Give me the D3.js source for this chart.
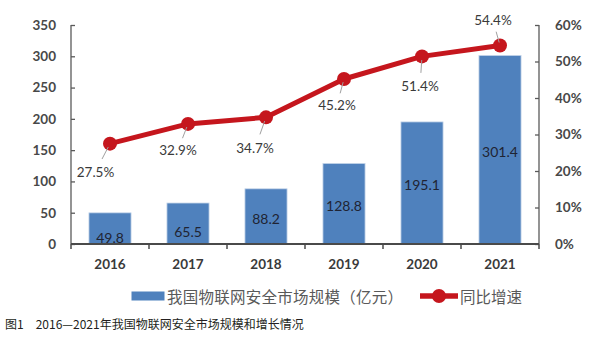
<!DOCTYPE html>
<html><head><meta charset="utf-8">
<script src="https://cdn.jsdelivr.net/npm/d3@7"></script>
<style>html,body{margin:0;padding:0;background:#fff;}svg{display:block;}</style>
</head><body>
<svg id="c" width="600" height="338"></svg>
<script>
const years = ["2016","2017","2018","2019","2020","2021"];
const marketSize = [49.8, 65.5, 88.2, 128.8, 195.1, 301.4];
const growthRate = [0.275, 0.329, 0.347, 0.452, 0.514, 0.544];
const leftTicks = [0,50,100,150,200,250,300,350];
const rightTicks = [0,0.1,0.2,0.3,0.4,0.5,0.6];
const legendBar = "我国物联网安全市场规模（亿元）";
const legendLine = "同比增速";
const caption = "图1　2016—2021年我国物联网安全市场规模和增长情况";

const svg = d3.select("#c");
const L = 71, R = 539, T = 25, B = 244;
const numFont = "Lato, 'Open Sans', sans-serif";
const cjkFont = "'Noto Sans CJK SC', sans-serif";

const x = d3.scaleBand().domain(years).range([L, R]).paddingInner(0.46).paddingOuter(0.23);
const yL = d3.scaleLinear().domain([0, 350]).range([B, T]);
const yR = d3.scaleLinear().domain([0, 0.6]).range([B, T]);
const cx = d => x(d) + x.bandwidth() / 2;

// bars
svg.append("g").selectAll("rect").data(years).join("rect")
  .attr("x", d => x(d)).attr("width", x.bandwidth())
  .attr("y", (d,i) => yL(marketSize[i])).attr("height", (d,i) => yL(0) - yL(marketSize[i]))
  .attr("fill", "#4f81bd").attr("stroke", "#c6d6ea").attr("stroke-width", 0.8);

// bar labels
const barNudge = [9, 8, 2, 1.5, 2, 2];
svg.append("g").selectAll("text").data(years).join("text")
  .attr("x", d => cx(d))
  .attr("y", (d,i) => (yL(marketSize[i]) + yL(0)) / 2 + barNudge[i])
  .attr("text-anchor", "middle").attr("dominant-baseline", "central")
  .attr("font-family", numFont).attr("font-size", 14).attr("fill", "#1f2433")
  .text((d,i) => marketSize[i].toFixed(1));

// left axis
const gL = svg.append("g").attr("transform", `translate(${L},0)`)
  .call(d3.axisLeft(yL).tickValues(leftTicks).tickSize(-4).tickPadding(15));
// right axis
const gR = svg.append("g").attr("transform", `translate(${R},0)`)
  .call(d3.axisRight(yR).tickValues(rightTicks).tickSize(-4).tickPadding(16).tickFormat(d3.format(".0%")));
[gL, gR].forEach(g => {
  g.selectAll("path,line").attr("stroke", "#5a5a5a").attr("stroke-width", 1.3);
  g.selectAll("text").attr("font-family", numFont).attr("font-size", 13.5)
    .attr("font-weight", "bold").attr("fill", "#484848");
});
gL.select("path").attr("d", `M0,${B}V${T}`);
gR.select("path").attr("d", `M0,${B}V${T}`);

// bottom axis
const gB = svg.append("g").attr("transform", `translate(0,${B})`)
  .call(d3.axisBottom(x).tickSize(0).tickPadding(15));
gB.select("path").attr("stroke", "#4a4a4a").attr("stroke-width", 2).attr("d", `M${L},0H${R}`);
gB.selectAll("text").attr("font-family", numFont).attr("font-size", 13.5).attr("font-weight", "bold").attr("fill", "#3a3a3a");
const bounds = years.map(d => x(d) - x.step() * x.paddingInner() / 2).concat([R]);
gB.selectAll("line.bd").data(bounds).join("line").attr("class", "bd")
  .attr("x1", d => d).attr("x2", d => d).attr("y1", 0).attr("y2", 5)
  .attr("stroke", "#4a4a4a").attr("stroke-width", 1.5);

// growth line
const red = "#c5161d";
const line = d3.line().x(d => cx(d)).y((d,i) => yR(growthRate[i]));
svg.append("path").datum(years).attr("d", line)
  .attr("fill", "none").attr("stroke", red).attr("stroke-width", 5).attr("stroke-linejoin", "round");
svg.append("g").selectAll("circle").data(years).join("circle")
  .attr("cx", d => cx(d)).attr("cy", (d,i) => yR(growthRate[i])).attr("r", 7).attr("fill", red);

// line labels with leaders
const lblOff = [[-14.5,28],[-10,26],[-11,31],[-7,26],[-2,30],[-7,-25]];
const lg = svg.append("g");
years.forEach((d,i) => {
  const mx = cx(d), my = yR(growthRate[i]);
  const [dx, dy] = lblOff[i];
  lg.append("line")
    .attr("x1", mx + dx*0.12).attr("y1", my + dy*0.12)
    .attr("x2", mx + dx*0.55).attr("y2", my + dy*0.55)
    .attr("stroke", "#a0a0a0").attr("stroke-width", 1);
  lg.append("text").attr("x", mx + dx).attr("y", my + dy)
    .attr("text-anchor", "middle").attr("dominant-baseline", "central")
    .attr("font-family", numFont).attr("font-size", 13.5).attr("fill", "#3a3a3a")
    .text(d3.format(".1%")(growthRate[i]));
});

// legend
const leg = svg.append("g");
leg.append("rect").attr("x", 131.5).attr("y", 291.5).attr("width", 33).attr("height", 9).attr("fill", "#4f81bd");
leg.append("text").attr("x", 167).attr("y", 296).attr("dominant-baseline", "central")
  .attr("font-family", cjkFont).attr("font-size", 15.5).attr("fill", "#595959")
  .attr("textLength", 236).attr("lengthAdjust", "spacing").text(legendBar);
leg.append("line").attr("x1", 420).attr("x2", 458).attr("y1", 296).attr("y2", 296)
  .attr("stroke", red).attr("stroke-width", 5.5);
leg.append("circle").attr("cx", 439).attr("cy", 296).attr("r", 7).attr("fill", red);
leg.append("text").attr("x", 460).attr("y", 296).attr("dominant-baseline", "central")
  .attr("font-family", cjkFont).attr("font-size", 15.5).attr("fill", "#595959").text(legendLine);

// caption
svg.append("text").attr("x", 5).attr("y", 323).attr("dominant-baseline", "central")
  .attr("font-family", cjkFont).attr("font-size", 12).attr("fill", "#231f20").text(caption);
</script>
</body></html>
